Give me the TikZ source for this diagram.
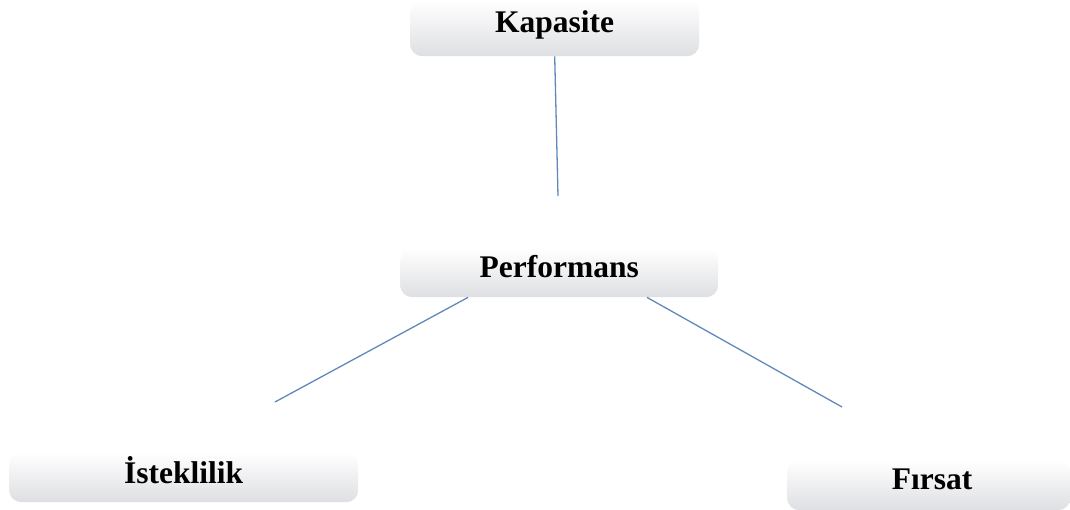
\documentclass[tikz,border=0pt]{standalone}
\usepackage{fontspec}
\setmainfont{Liberation Serif}
\definecolor{linkblue}{RGB}{96,137,186}
\definecolor{boxlow}{RGB}{222,223,226}
\begin{document}
\begin{tikzpicture}[x=1pt,y=-1pt,
  tile/.style={inner sep=0pt, rounded corners=12pt, top color=white, bottom color=boxlow,
    font=\fontsize{31.5}{31.5}\selectfont\bfseries, anchor=north west},
  link/.style={draw=linkblue, line width=1.3pt}]
  \useasboundingbox (0,0) rectangle (1070,510);
  \node[tile, minimum width=289pt, minimum height=56pt, text height=32pt, text depth=24pt] (kap) at (410,0) {Kapasite};
  \node[tile, minimum width=318pt, minimum height=49pt, text height=29pt, text depth=20pt] (perf) at (400,248) {Performans};
  \node[tile, minimum width=349pt, minimum height=50pt, text height=31pt, text depth=19pt] (ist) at (9,452) {İsteklilik};
  \node[tile, minimum width=283pt, minimum height=50pt, text height=29pt, text depth=21pt] (fir) at (787,460) {\hspace{7pt}Fırsat};
  \coordinate (kapEnd) at (558,196);
  \coordinate (istEnd) at (275,402);
  \coordinate (firEnd) at (842,407);
  \draw[link] (kap.south) -- (kapEnd);
  \draw[link] ([xshift=68pt]perf.south west) -- (istEnd);
  \draw[link] ([xshift=247pt]perf.south west) -- (firEnd);
\end{tikzpicture}
\end{document}
